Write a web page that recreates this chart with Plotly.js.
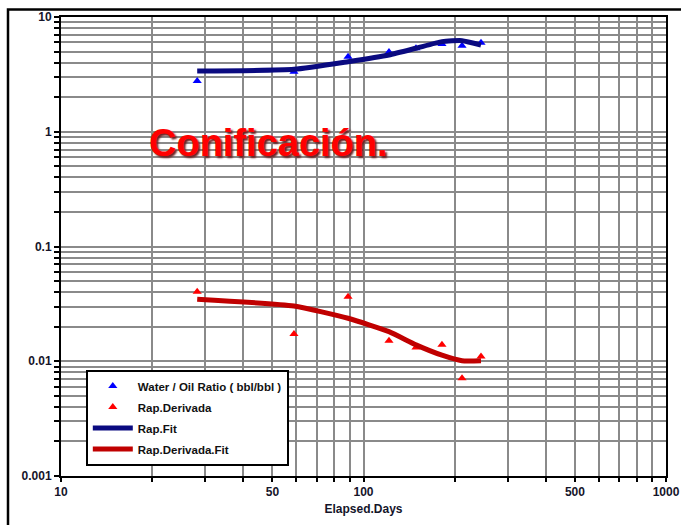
<!DOCTYPE html>
<html>
<head>
<meta charset="utf-8">
<script src="https://cdn.plot.ly/plotly-3.0.1.min.js"></script>
<style>html,body{margin:0;padding:0;background:#fff}#chart{width:681px;height:525px}</style>
</head>
<body>
<div id="chart"></div>
<script>
// Data
const wopDays = [28.2, 58.9, 88.9, 121.4, 149.1, 181.7, 211.7, 244.6];
const wopRatio = [2.77, 3.34, 4.51, 4.95, 5.34, 5.81, 5.62, 5.97];
const derivDays = [28.2, 58.9, 88.9, 121.4, 149.1, 181.7, 211.7, 244.6];
const derivRatio = [0.0404, 0.0173, 0.0365, 0.0151, 0.0132, 0.0139, 0.0071, 0.0110];
const fitDays = [28.2, 58.9, 88.9, 121.4, 149.1, 181.7, 211.7, 244.6];
const fitRatio = [3.38, 3.50, 4.08, 4.67, 5.34, 6.10, 6.22, 5.70];
const derivFitDays = [28.2, 58.9, 88.9, 121.4, 149.1, 181.7, 211.7, 244.6];
const derivFitRatio = [0.0347, 0.0303, 0.0237, 0.0181, 0.0139, 0.0113, 0.0101, 0.0101];
const xTickVals = [10,20,30,40,50,60,70,80,90,100,200,300,400,500,600,700,800,900,1000];
const xTickLabels = ["10","","","","50","","","","","100","","","","500","","","","","1000"];
const yTickVals = [0.001,0.002,0.003,0.004,0.005,0.006,0.007,0.008,0.009,
                   0.01,0.02,0.03,0.04,0.05,0.06,0.07,0.08,0.09,
                   0.1,0.2,0.3,0.4,0.5,0.6,0.7,0.8,0.9,
                   1,2,3,4,5,6,7,8,9,10];
const yLabelMap = {0.001:"0.001",0.01:"0.01",0.1:"0.1",1:"1",10:"10"};
const yTickLabels = yTickVals.map(v => yLabelMap[v] || "");
const seriesNames = ["Water / Oil Ratio ( bbl/bbl )", "Rap.Derivada", "Rap.Fit", "Rap.Derivada.Fit"];
const annotationText = "Conificación.";
const xTitle = "Elapsed.Days";

const tickFont = {family: "Liberation Sans, Arial, sans-serif", size: 12, color: "#15152a", weight: 700};

const traces = [
  {x: wopDays, y: wopRatio, name: seriesNames[0], mode: "markers", type: "scatter", legendgroup: "a",
   marker: {symbol: "triangle-up", size: 8, color: "#0000ff"}},
  {x: derivDays, y: derivRatio, name: seriesNames[1], mode: "markers", type: "scatter", legendgroup: "b",
   marker: {symbol: "triangle-up", size: 8, color: "#ff0000"}},
  {x: fitDays, y: fitRatio, name: seriesNames[2], mode: "lines", type: "scatter", legendgroup: "c",
   line: {color: "#0a0a80", width: 5, shape: "spline", smoothing: 0.5}},
  {x: derivFitDays, y: derivFitRatio, name: seriesNames[3], mode: "lines", type: "scatter", legendgroup: "d",
   line: {color: "#c00000", width: 5, shape: "spline", smoothing: 0.5}}
];

const layout = {
  width: 681, height: 525,
  margin: {l: 61, r: 15, t: 17, b: 49},
  paper_bgcolor: "#ffffff", plot_bgcolor: "#ffffff",
  showlegend: true,
  legend: {x: 0.041, y: 0.232, xanchor: "left", yanchor: "top",
           bgcolor: "#ffffff", bordercolor: "#000000", borderwidth: 2,
           font: {family: "Liberation Sans, Arial, sans-serif", size: 11.5, color: "#111", weight: 700},
           tracegroupgap: 2, itemwidth: 40},
  xaxis: {type: "log", range: [1, 3], tickmode: "array", tickvals: xTickVals, ticktext: xTickLabels,
          showgrid: true, gridcolor: "#8a8a8a", gridwidth: 2,
          showline: true, linecolor: "#000", linewidth: 2, mirror: true,
          ticks: "outside", ticklen: 4, tickcolor: "#000", tickwidth: 2,
          tickfont: tickFont, zeroline: false,
          title: {text: xTitle, font: {family: "Liberation Sans, Arial, sans-serif", size: 12, color: "#15152a", weight: 700}, standoff: 6}},
  yaxis: {type: "log", range: [-3, 1], tickmode: "array", tickvals: yTickVals, ticktext: yTickLabels,
          showgrid: true, gridcolor: "#8a8a8a", gridwidth: 2,
          showline: true, linecolor: "#000", linewidth: 2, mirror: true,
          ticks: "outside", ticklen: 5, tickcolor: "#000", tickwidth: 2,
          tickfont: tickFont, zeroline: false},
  annotations: [{
    x: Math.log10(19.2), y: Math.log10(0.8), xref: "x", yref: "y",
    xanchor: "left", yanchor: "middle", showarrow: false,
    text: annotationText,
    font: {family: "Liberation Sans, Arial, sans-serif", size: 38, color: "#ff0000", weight: 700,
           shadow: "2px 2px 2px #6b2020"}
  }],
  shapes: [{
    type: "rect", xref: "paper", yref: "paper",
    x0: -0.0876, x1: 1.05, y0: -0.3, y1: 1.0163,
    line: {color: "#000", width: 2.5}, fillcolor: "rgba(0,0,0,0)", layer: "above"
  }]
};

Plotly.newPlot("chart", traces, layout, {displayModeBar: false, staticPlot: true});
</script>
</body>
</html>
